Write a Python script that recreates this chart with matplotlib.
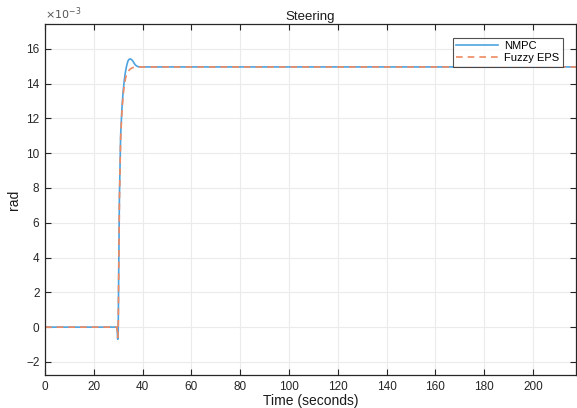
import matplotlib
matplotlib.use("Agg")
import matplotlib.pyplot as plt

plt.rcParams['font.family'] = ['Liberation Sans', 'DejaVu Sans']

# Data (values in units of 1e-3 rad)
t_nmpc = [0, 29.5, 29.8, 30.0, 30.2, 30.5, 31.0, 31.5, 32.0, 32.5, 33.0, 33.5,
          34.0, 34.5, 35.0, 35.5, 36.0, 36.5, 37.0, 37.5, 38.0, 39.0, 40, 45, 218]
v_nmpc = [0, 0, -0.7, -0.3, 3.0, 7.5, 11.0, 12.5, 13.5, 14.2, 14.7, 15.05,
          15.3, 15.4, 15.42, 15.38, 15.3, 15.18, 15.08, 15.02, 14.98, 14.96, 14.96, 14.96, 14.96]

t_fuzzy = [0, 29.5, 29.8, 30.0, 30.2, 30.5, 31.0, 31.5, 32.0, 32.5, 33.0, 33.5,
           34.0, 35, 36, 37, 38, 40, 218]
v_fuzzy = [0, 0, -0.6, -0.3, 2.8, 7.2, 10.8, 12.3, 13.3, 13.9, 14.3, 14.55,
           14.7, 14.85, 14.92, 14.95, 14.96, 14.96, 14.96]

x_ticks = [0, 20, 40, 60, 80, 100, 120, 140, 160, 180, 200]
y_ticks = [-2, 0, 2, 4, 6, 8, 10, 12, 14, 16]

fig = plt.figure(figsize=(5.77, 4.08), dpi=100)
ax = fig.add_axes([0.078, 0.081, 0.92, 0.859])

ax.plot(t_nmpc, v_nmpc, color='#4da3df', lw=1.2, label='NMPC')
ax.plot(t_fuzzy, v_fuzzy, color='#ef8a62', lw=1.2, ls=(0, (4, 3)), label='Fuzzy EPS')

ax.set_xlim(0, 217.6)
ax.set_ylim(-2.75, 17.4)
ax.set_xticks(x_ticks)
ax.set_yticks(y_ticks)
ax.grid(True, color='#ebebeb', lw=0.8)
ax.set_axisbelow(True)
ax.tick_params(direction='in', length=4, width=0.8, top=True, right=True,
               labelsize=8.5, colors='#262626', pad=4)
for s in ax.spines.values():
    s.set_color('#262626')
    s.set_linewidth(0.9)

ax.set_title('Steering', fontsize=9.5, pad=3, color='#1a1a1a')
ax.set_xlabel('Time (seconds)', fontsize=10, labelpad=1, color='#1a1a1a')
ax.set_ylabel('rad', fontsize=10, labelpad=4, color='#1a1a1a')
ax.text(0.0, 1.008, r'$\times10^{-3}$', transform=ax.transAxes, fontsize=8,
        ha='left', va='bottom', color='#555555')

leg = ax.legend(loc='upper right', fontsize=8, frameon=True, fancybox=False,
                edgecolor='#262626', borderaxespad=1.2, handlelength=3.8,
                borderpad=0.3, labelspacing=0.2, handletextpad=0.5)
leg.get_frame().set_linewidth(0.8)

fig.savefig('out.png', dpi=100)
